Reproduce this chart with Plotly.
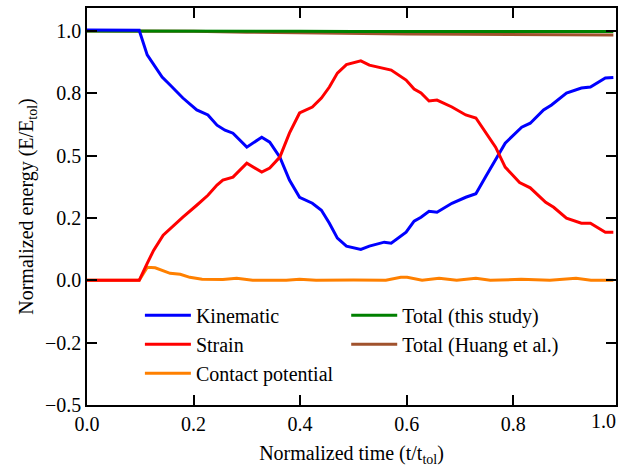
import plotly.graph_objects as go

# ---------------- data ----------------
kin_x = [0.0, 0.05, 0.098, 0.113, 0.122, 0.141, 0.156, 0.180, 0.206, 0.227, 0.244, 0.259, 0.274,
         0.300, 0.328, 0.343, 0.362, 0.380, 0.399, 0.423, 0.440, 0.455, 0.470, 0.487, 0.514,
         0.530, 0.558, 0.571, 0.599, 0.614, 0.627, 0.642, 0.657, 0.685, 0.711, 0.730, 0.748,
         0.767, 0.785, 0.816, 0.832, 0.857, 0.872, 0.900, 0.928, 0.945, 0.973, 0.988]
kin_y = [1.004, 1.004, 1.003, 0.904, 0.876, 0.815, 0.783, 0.731, 0.683, 0.663, 0.622, 0.602, 0.590,
         0.534, 0.574, 0.554, 0.494, 0.402, 0.333, 0.309, 0.281, 0.229, 0.169, 0.137, 0.124,
         0.137, 0.153, 0.149, 0.193, 0.237, 0.253, 0.277, 0.273, 0.309, 0.333, 0.347, 0.414,
         0.482, 0.550, 0.614, 0.630, 0.683, 0.703, 0.751, 0.771, 0.775, 0.811, 0.813]

str_x = [0.0, 0.05, 0.098, 0.113, 0.125, 0.143, 0.159, 0.180, 0.206, 0.227, 0.244, 0.255, 0.274,
         0.300, 0.328, 0.343, 0.362, 0.380, 0.399, 0.423, 0.440, 0.455, 0.470, 0.487, 0.514,
         0.530, 0.571, 0.599, 0.614, 0.627, 0.642, 0.657, 0.685, 0.711, 0.730, 0.748, 0.767,
         0.785, 0.812, 0.832, 0.848, 0.861, 0.876, 0.900, 0.928, 0.945, 0.973, 0.988]
str_y = [0.0, 0.0, 0.0, 0.068, 0.120, 0.181, 0.213, 0.253, 0.301, 0.341, 0.382, 0.402, 0.414,
         0.470, 0.434, 0.450, 0.494, 0.590, 0.671, 0.695, 0.731, 0.775, 0.831, 0.865, 0.880,
         0.863, 0.843, 0.803, 0.767, 0.751, 0.719, 0.723, 0.695, 0.663, 0.651, 0.594, 0.534,
         0.454, 0.392, 0.371, 0.341, 0.313, 0.293, 0.249, 0.229, 0.229, 0.193, 0.193]

con_x = [0.0, 0.05, 0.098, 0.113, 0.128, 0.156, 0.175, 0.193, 0.216, 0.255, 0.281, 0.311, 0.374,
         0.399, 0.430, 0.500, 0.561, 0.589, 0.601, 0.629, 0.661, 0.694, 0.730, 0.757, 0.815,
         0.869, 0.918, 0.946, 0.988]
con_y = [0.0, 0.0, 0.0, 0.052, 0.050, 0.028, 0.024, 0.012, 0.004, 0.003, 0.008, 0.0, 0.0,
         0.004, 0.0, 0.001, 0.0, 0.012, 0.012, 0.0, 0.008, 0.0, 0.008, 0.0, 0.004,
         0.0, 0.008, 0.0, 0.0]

tot_x = [0.0, 0.1, 0.2, 0.3, 0.4, 0.5, 0.6, 0.7, 0.8, 0.9, 0.988]
tot_this_y = [1.0, 1.0, 1.002, 1.001, 0.999, 0.998, 0.997, 0.997, 0.998, 0.998, 0.998]
tot_huang_y = [1.0, 1.0, 0.999, 0.995, 0.992, 0.990, 0.988, 0.987, 0.986, 0.985, 0.984]

x_ticks = [0.0, 0.2, 0.4, 0.6, 0.8]
x_tick_text = ["0.0", "0.2", "0.4", "0.6", "0.8"]
y_ticks = [-0.5, -0.25, 0.0, 0.25, 0.5, 0.75, 1.0]
y_tick_text = ["\u22120.5", "\u22120.2", "0.0", "0.2", "0.5", "0.8", "1.0"]

FONT = "Liberation Serif, Times New Roman, DejaVu Serif, serif"
LW = 3

fig = go.Figure()
fig.add_trace(go.Scatter(x=tot_x, y=tot_huang_y, mode="lines", name="Total (Huang et al.)",
                         line=dict(color="#a0522d", width=LW), legend="legend2", legendrank=2))
fig.add_trace(go.Scatter(x=tot_x, y=tot_this_y, mode="lines", name="Total (this study)",
                         line=dict(color="#008000", width=LW), legend="legend2", legendrank=1))
fig.add_trace(go.Scatter(x=con_x, y=con_y, mode="lines", name="Contact potential",
                         line=dict(color="#ff8000", width=LW), legend="legend", legendrank=3))
fig.add_trace(go.Scatter(x=kin_x, y=kin_y, mode="lines", name="Kinematic",
                         line=dict(color="#0000ff", width=LW), legend="legend", legendrank=1))
fig.add_trace(go.Scatter(x=str_x, y=str_y, mode="lines", name="Strain",
                         line=dict(color="#ff0000", width=LW), legend="legend", legendrank=2))

axis_common = dict(showline=True, linecolor="black", linewidth=1.5, mirror="ticks",
                   ticks="inside", ticklen=10, tickwidth=1.5, tickcolor="black",
                   showgrid=False, zeroline=False,
                   tickfont=dict(family=FONT, size=20, color="black"))

fig.update_xaxes(range=[0, 0.993], tickvals=x_ticks, ticktext=x_tick_text,
                 title=dict(text="Normalized time (t/t<sub>tol</sub>)",
                            font=dict(family=FONT, size=20, color="black"), standoff=12),
                 **axis_common)
fig.update_yaxes(range=[-0.5, 1.092], tickvals=y_ticks, ticktext=y_tick_text,
                 title=dict(text="Normalized energy (E/E<sub>tol</sub>)",
                            font=dict(family=FONT, size=20, color="black"), standoff=6),
                 **axis_common)

leg_common = dict(font=dict(family=FONT, size=20, color="black"), bgcolor="rgba(0,0,0,0)",
                  borderwidth=0, xanchor="left", yanchor="top", tracegroupgap=0,
                  itemwidth=46)
fig.update_layout(
    width=622, height=469,
    margin=dict(l=87, r=4, t=8, b=64),
    plot_bgcolor="white", paper_bgcolor="white",
    font=dict(family=FONT, color="black"),
    showlegend=True,
    legend=dict(x=0.10, y=0.275, **leg_common),
    legend2=dict(x=0.49, y=0.275, **leg_common),
    annotations=[dict(text="1.0", xref="paper", yref="paper", x=0.9755, y=0, yshift=-3,
                      xanchor="center", yanchor="top", showarrow=False,
                      font=dict(family=FONT, size=20, color="black"))],
)

fig.write_html("out.html")
